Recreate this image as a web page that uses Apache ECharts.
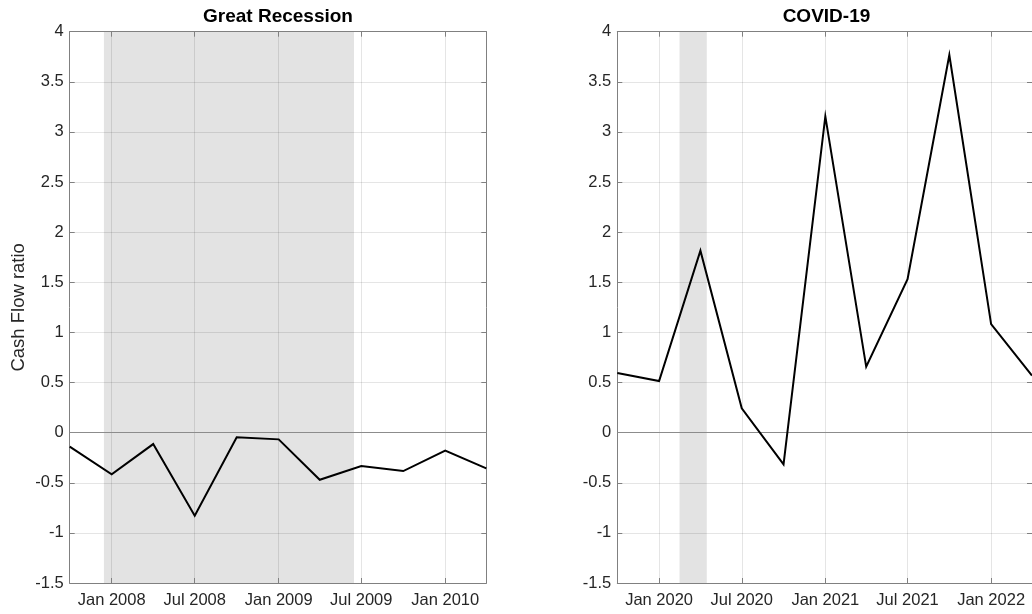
<!DOCTYPE html>
<html>
<head>
<meta charset="utf-8">
<title>Cash Flow ratio</title>
<script src="https://cdn.jsdelivr.net/npm/echarts@6/dist/echarts.min.js"></script>
<style>
  html, body { margin: 0; padding: 0; background: #ffffff; }
  #chart { width: 1032px; height: 614px; }
</style>
</head>
<body>
<div id="chart"></div>
<script>
// Quarterly cash flow ratio around two recessions
const grDates = ['2007-10', '2008-01', '2008-04', '2008-07', '2008-10', '2009-01',
                 '2009-04', '2009-07', '2009-10', '2010-01', '2010-04'];
const grValues = [-0.14, -0.416, -0.114, -0.829, -0.047, -0.067,
                  -0.47, -0.333, -0.383, -0.18, -0.356];

const covidDates = ['2019-10', '2020-01', '2020-04', '2020-07', '2020-10', '2021-01',
                    '2021-04', '2021-07', '2021-10', '2022-01', '2022-04'];
const covidValues = [0.596, 0.515, 1.815, 0.243, -0.316, 3.155,
                     0.657, 1.53, 3.767, 1.083, 0.57];

// Axis ranges, tick positions and recession periods
const grRange = ['2007-10', '2010-04'];
const covidRange = ['2019-10', '2022-04'];
const grTicks = ['2008-01', '2008-07', '2009-01', '2009-07', '2010-01'];
const covidTicks = ['2020-01', '2020-07', '2021-01', '2021-07', '2022-01'];
const grShade = ['2007-12-15', '2009-06-15'];
const covidShade = ['2020-02-15', '2020-04-15'];

const panelTitles = ['Great Recession', 'COVID-19'];
const yName = 'Cash Flow ratio';
const yMin = -1.5, yMax = 4, yStep = 0.5;

const monthNames = ['Jan', 'Feb', 'Mar', 'Apr', 'May', 'Jun',
                    'Jul', 'Aug', 'Sep', 'Oct', 'Nov', 'Dec'];

function ts(s) {
  const p = s.split('-').map(Number);
  return Date.UTC(p[0], p[1] - 1, p[2] || 1);
}
function fmtDate(v) {
  const d = new Date(v);
  return monthNames[d.getUTCMonth()] + ' ' + d.getUTCFullYear();
}

const FONT = 'Helvetica, Arial, "Liberation Sans", sans-serif';
const TEXT = '#262626';
const FRAME = '#808080';
const GRIDC = 'rgba(0,0,0,0.1)';

const panels = [
  { dates: grDates, values: grValues, range: grRange, ticks: grTicks, shade: grShade,
    left: 69.7, width: 416.6 },
  { dates: covidDates, values: covidValues, range: covidRange, ticks: covidTicks, shade: covidShade,
    left: 617.3, width: 418.3 }
];
const TOP = 31.7, HEIGHT = 551.3;

const grid = [], xAxis = [], yAxis = [], series = [], title = [];

panels.forEach((p, i) => {
  grid.push({ left: p.left, top: TOP, width: p.width, height: HEIGHT, containLabel: false });

  title.push({
    text: panelTitles[i],
    left: p.left + p.width / 2,
    top: 7.5,
    padding: 0,
    textAlign: 'center',
    textVerticalAlign: 'top',
    textStyle: { fontFamily: FONT, fontSize: 19, fontWeight: 'bold', color: '#000000' }
  });

  const tickVals = p.ticks.map(ts);
  const xBase = {
    type: 'value',
    gridIndex: i,
    min: ts(p.range[0]),
    max: ts(p.range[1]),
    z: 2,
    axisLine: { show: true, onZero: false, lineStyle: { color: FRAME, width: 1 } },
    axisTick: { show: true, inside: true, length: 5, customValues: tickVals,
                lineStyle: { color: FRAME, width: 1 } }
  };
  // bottom axis with labels and vertical grid lines
  xAxis.push(Object.assign({}, xBase, {
    position: 'bottom',
    axisLabel: { show: true, customValues: tickVals, formatter: fmtDate, margin: 9,
                 fontFamily: FONT, fontSize: 16.5, color: TEXT },
    splitLine: { show: true, lineStyle: { color: GRIDC, width: 1 } }
  }));
  // top frame edge with inward ticks
  xAxis.push(Object.assign({}, xBase, {
    position: 'top',
    axisLabel: { show: false },
    splitLine: { show: false }
  }));

  const yBase = {
    type: 'value',
    gridIndex: i,
    min: yMin,
    max: yMax,
    interval: yStep,
    z: 2,
    axisLine: { show: true, onZero: false, lineStyle: { color: FRAME, width: 1 } },
    axisTick: { show: true, inside: true, length: 5, lineStyle: { color: FRAME, width: 1 } }
  };
  const yLeft = Object.assign({}, yBase, {
    position: 'left',
    axisLabel: { show: true, margin: 6, fontFamily: FONT, fontSize: 16.5, color: TEXT },
    splitLine: { show: true, lineStyle: { color: GRIDC, width: 1 } }
  });
  if (i === 0) {
    Object.assign(yLeft, {
      name: yName,
      nameLocation: 'middle',
      nameGap: 41,
      nameTextStyle: { fontFamily: FONT, fontSize: 18.5, color: TEXT }
    });
  }
  yAxis.push(yLeft);
  yAxis.push(Object.assign({}, yBase, {
    position: 'right',
    axisLabel: { show: false },
    splitLine: { show: false }
  }));

  const xi = i * 2, yi = i * 2;
  const pts = p.dates.map((d, k) => [ts(d), p.values[k]]);

  // recession shading, beneath the grid lines
  series.push({
    type: 'line',
    xAxisIndex: xi, yAxisIndex: yi,
    data: pts,
    showSymbol: false,
    silent: true,
    z: 1,
    lineStyle: { opacity: 0 },
    markArea: {
      silent: true,
      itemStyle: { color: '#e3e3e3' },
      data: [[{ xAxis: ts(p.shade[0]) }, { xAxis: ts(p.shade[1]) }]]
    }
  });
  // zero reference line
  series.push({
    type: 'line',
    xAxisIndex: xi, yAxisIndex: yi,
    data: [],
    silent: true,
    z: 3,
    markLine: {
      silent: true,
      symbol: ['none', 'none'],
      label: { show: false },
      lineStyle: { color: '#8c8c8c', width: 1, type: 'solid' },
      data: [{ yAxis: 0 }]
    }
  });
  // cash flow ratio
  series.push({
    type: 'line',
    xAxisIndex: xi, yAxisIndex: yi,
    data: pts,
    showSymbol: false,
    symbol: 'none',
    z: 5,
    clip: true,
    lineStyle: { color: '#000000', width: 2, join: 'miter' }
  });
});

const chart = echarts.init(document.getElementById('chart'), null, { renderer: 'canvas' });
chart.setOption({
  backgroundColor: '#ffffff',
  animation: false,
  title: title,
  grid: grid,
  xAxis: xAxis,
  yAxis: yAxis,
  series: series
});
</script>
</body>
</html>
